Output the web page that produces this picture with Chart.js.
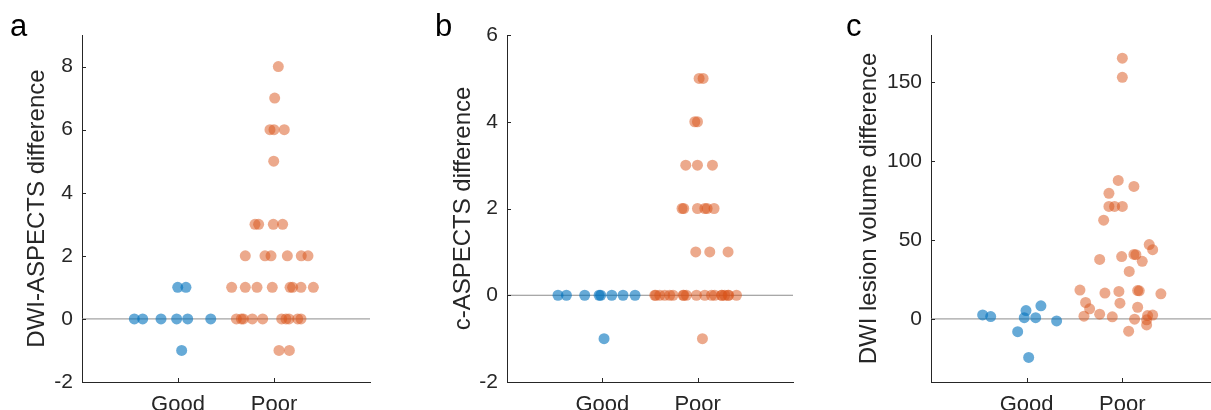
<!DOCTYPE html>
<html>
<head>
<meta charset="utf-8">
<script src="https://cdn.jsdelivr.net/npm/chart.js@4"></script>
<style>
  html, body { margin: 0; padding: 0; background: #fff; overflow: hidden; width: 1211px; height: 410px; }
  canvas { position: absolute; top: 0; }
</style>
</head>
<body>
<canvas id="chartA" width="400" height="410" style="left:0px"></canvas>
<canvas id="chartB" width="410" height="410" style="left:400px"></canvas>
<canvas id="chartC" width="430" height="410" style="left:810px"></canvas>
<script>
// categorias (x = 1, 2)
const groups = ['Good', 'Poor'];

// painel a - DWI-ASPECTS
const aGoodX = [0.545, 0.632, 0.823, 0.986, 1.101, 1.341, 0.997, 1.083, 1.038];
const aGoodY = [0, 0, 0, 0, 0, 0, 1, 1, -1];
const aPoorX = [2.045, 2.007, 1.958, 2.000, 2.107, 1.997, 1.802, 1.840, 1.993, 2.090,
                1.701, 1.906, 1.969, 2.139, 2.284, 2.354,
                1.559, 1.701, 1.823, 1.982, 2.167, 2.194, 2.281, 2.410,
                1.608, 1.660, 1.681, 1.774, 1.882, 2.080, 2.125, 2.156, 2.247, 2.281,
                2.052, 2.160];
const aPoorY = [8, 7, 6, 6, 6, 5, 3, 3, 3, 3,
                2, 2, 2, 2, 2, 2,
                1, 1, 1, 1, 1, 1, 1, 1,
                0, 0, 0, 0, 0, 0, 0, 0, 0, 0,
                -1, -1];
const aTicks = [-2, 0, 2, 4, 6, 8];

// painel b - c-ASPECTS
const bGoodX = [0.535, 0.623, 0.815, 0.966, 0.983, 1.099, 1.217, 1.343, 1.018];
const bGoodY = [0, 0, 0, 0, 0, 0, 0, 0, -1];
const bPoorX = [2.015, 2.057, 1.970, 1.998, 1.875, 1.998, 2.155,
                1.836, 1.854, 1.998, 2.075, 2.099, 2.172,
                1.980, 2.127, 2.319,
                1.550, 1.560, 1.602, 1.655, 1.707, 1.742, 1.847, 1.855, 1.882, 1.987,
                2.075, 2.145, 2.179, 2.250, 2.255, 2.284, 2.319, 2.325, 2.407,
                2.050];
const bPoorY = [5, 5, 4, 4, 3, 3, 3,
                2, 2, 2, 2, 2, 2,
                1, 1, 1,
                0, 0, 0, 0, 0, 0, 0, 0, 0, 0,
                0, 0, 0, 0, 0, 0, 0, 0, 0,
                -1];
const bTicks = [-2, 0, 2, 4, 6];

// painel c - volume da lesao
const cGoodX = [0.540, 0.624, 0.993, 0.975, 1.094, 1.149, 0.906, 1.313, 1.021];
const cGoodY = [2.5, 1.5, 5.3, 0.8, 0.8, 8.3, -8.1, -1.3, -24.4];
const cPoorX = [2.000, 2.000, 1.957, 2.121, 1.860, 1.860, 1.919, 2.000, 1.805, 2.281,
                2.317, 1.763, 1.993, 2.121, 2.142, 2.208, 2.072, 1.557, 1.818, 1.964,
                2.160, 2.177, 2.403, 1.616, 1.658, 1.975, 2.160, 1.599, 1.763, 1.895,
                2.128, 2.264, 2.317, 2.254, 2.254, 2.066];
const cPoorY = [165.3, 153.2, 87.8, 84.0, 79.6, 71.3, 71.3, 71.3, 62.6, 47.1,
                43.9, 37.7, 39.5, 40.9, 40.7, 36.5, 30.1, 18.3, 16.4, 17.4,
                18.0, 17.8, 15.9, 10.4, 6.4, 10.0, 7.4, 1.7, 3.0, 1.3,
                -0.2, 2.1, 2.4, -0.6, -3.8, -7.8];
const cTicks = [0, 50, 100, 150];

const blue = 'rgba(0,114,189,0.6)';
const orange = 'rgba(217,83,25,0.5)';
const ink = '#262626';
const fontName = '"Liberation Sans", Arial, sans-serif';

function pts(xs, ys) {
    return xs.map((x, i) => ({ x: x, y: ys[i] }));
}

// ticks para dentro + letra do painel
const axisDecor = {
    id: 'axisDecor',
    afterDraw(chart, args, opts) {
        const { ctx, chartArea, scales: { x, y } } = chart;
        ctx.save();
        ctx.strokeStyle = ink;
        ctx.lineWidth = 1;
        ctx.beginPath();
        y.ticks.forEach(t => {
            const py = Math.round(y.getPixelForValue(t.value)) + 0.5;
            ctx.moveTo(chartArea.left, py);
            ctx.lineTo(chartArea.left + 4, py);
        });
        x.ticks.forEach(t => {
            const px = Math.round(x.getPixelForValue(t.value)) + 0.5;
            ctx.moveTo(px, chartArea.bottom);
            ctx.lineTo(px, chartArea.bottom - 4);
        });
        ctx.stroke();
        ctx.fillStyle = '#000';
        ctx.font = '31px ' + fontName;
        ctx.textBaseline = 'alphabetic';
        ctx.fillText(opts.letter, opts.lx, 36);
        ctx.restore();
    }
};

function panel(id, cfg) {
    new Chart(document.getElementById(id), {
        type: 'scatter',
        data: {
            datasets: [{
                data: pts(cfg.goodX, cfg.goodY),
                backgroundColor: blue,
                borderWidth: 0,
                pointRadius: 5.5,
                order: 1
            }, {
                data: pts(cfg.poorX, cfg.poorY),
                backgroundColor: orange,
                borderWidth: 0,
                pointRadius: 5.5,
                order: 1
            }, {
                // linha do zero
                data: [{ x: 0, y: 0 }, { x: 3, y: 0 }],
                showLine: true,
                borderColor: '#8c8c8c',
                borderWidth: 1,
                pointRadius: 0,
                order: 3
            }]
        },
        options: {
            responsive: false,
            animation: false,
            devicePixelRatio: 1,
            layout: { padding: { top: 35, right: cfg.padRight, left: 0, bottom: 0 } },
            plugins: {
                legend: { display: false },
                tooltip: { enabled: false },
                axisDecor: { letter: cfg.letter, lx: cfg.lx }
            },
            scales: {
                x: {
                    type: 'linear',
                    min: 0,
                    max: 3,
                    afterBuildTicks: s => { s.ticks = groups.map((g, i) => ({ value: i + 1 })); },
                    afterFit: s => { s.height = 28; },
                    ticks: {
                        color: ink,
                        padding: 10,
                        font: { family: fontName, size: 22 },
                        callback: v => groups[v - 1]
                    },
                    grid: { display: false, drawTicks: false },
                    border: { color: ink, width: 1 }
                },
                y: {
                    min: cfg.yMin,
                    max: cfg.yMax,
                    afterBuildTicks: s => { s.ticks = cfg.ticks.map(v => ({ value: v })); },
                    afterFit: s => { s.width = cfg.plotLeft; },
                    ticks: {
                        color: ink,
                        padding: 9,
                        font: { family: fontName, size: 21 }
                    },
                    grid: { display: false, drawTicks: false },
                    border: { color: ink, width: 1 }
                    ,
                    title: {
                        display: true,
                        text: cfg.title,
                        color: ink,
                        font: { family: fontName, size: 24 },
                        padding: { top: cfg.titlePad, bottom: 0 }
                    }
                }
            }
        },
        plugins: [axisDecor]
    });
}

panel('chartA', {
    goodX: aGoodX, goodY: aGoodY, poorX: aPoorX, poorY: aPoorY, ticks: aTicks,
    yMin: -2, yMax: 9, title: 'DWI-ASPECTS difference',
    plotLeft: 82, padRight: 30, titlePad: 23, letter: 'a', lx: 10
});
panel('chartB', {
    goodX: bGoodX, goodY: bGoodY, poorX: bPoorX, poorY: bPoorY, ticks: bTicks,
    yMin: -2, yMax: 6, title: 'c-ASPECTS difference',
    plotLeft: 107, padRight: 17, titlePad: 49, letter: 'b', lx: 35
});
panel('chartC', {
    goodX: cGoodX, goodY: cGoodY, poorX: cPoorX, poorY: cPoorY, ticks: cTicks,
    yMin: -40, yMax: 180, title: 'DWI lesion volume difference',
    plotLeft: 121, padRight: 22, titlePad: 45, letter: 'c', lx: 36
});
</script>
</body>
</html>
